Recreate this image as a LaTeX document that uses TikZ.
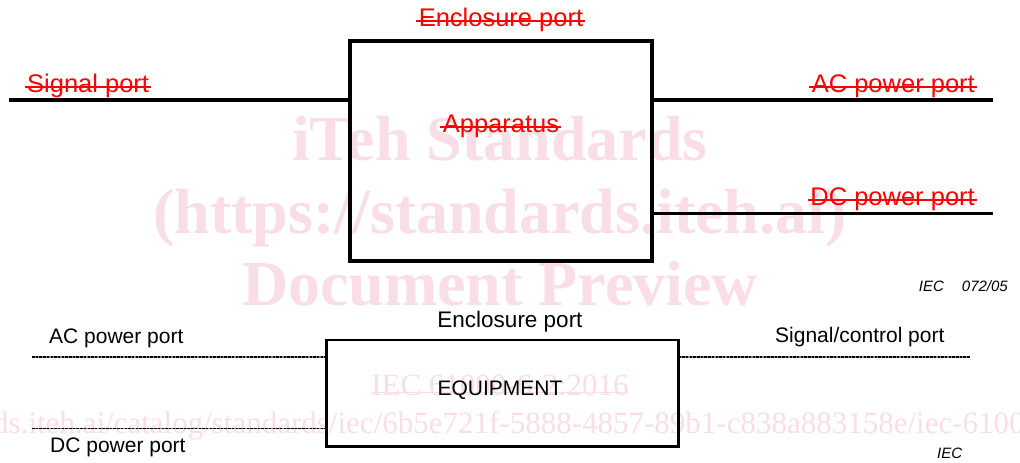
\documentclass[tikz,border=0pt]{standalone}
\usepackage{fontspec}
\setmainfont{Liberation Sans}
\newfontfamily\wmserif{Liberation Serif}
\definecolor{wmpink}{RGB}{249,222,230}
\definecolor{portred}{RGB}{255,0,0}
\tikzset{
  frame/.style={draw, inner sep=0pt, outer sep=0pt},
  heavywire/.style={line width=3.6pt},
  portwire/.style={draw=black, line width=1.7pt, dash pattern=on 2.5pt off 1.2pt,
                   preaction={draw=black!45, line width=1.7pt}},
  redlabel/.style={text=portred, inner sep=0pt, font=\fontsize{25.5}{30}\selectfont},
  strikeline/.style={draw=portred, line width=2pt},
  plainlabel/.style={inner sep=0pt, font=\fontsize{21}{25}\selectfont},
  tag/.style={inner sep=0pt, font=\fontsize{15}{18}\selectfont\itshape},
  wmbig/.style={text=wmpink, inner sep=0pt, font=\fontsize{64}{70}\selectfont\wmserif\bfseries},
  wmsmall/.style={text=wmpink, inner sep=0pt, font=\fontsize{31}{36}\selectfont\wmserif},
}
% red label with a line struck through it
\newcommand\struckname[4]{%
  \node[redlabel, anchor=#3] (#1) at #2 {#4};
  \draw[strikeline] ([xshift=-2.5pt,yshift=5pt]#1.base west) -- ([xshift=2pt,yshift=5pt]#1.base east);}
\begin{document}
\begin{tikzpicture}[x=1pt, y=-1pt]
\useasboundingbox (0,0) rectangle (1020,463);

% background imprint
\begin{scope}
  \clip (0,0) rectangle (1020,463);
  \node[wmbig, anchor=base] (wm1) at (500,160) {iTeh Standards};
  \node[wmbig, anchor=base] (wm2) at (500,233) {(https://standards.iteh.ai)};
  \node[wmbig, anchor=base] (wm3) at (500,305) {Document Preview};
  \node[wmsmall, anchor=base] (wm4) at (500,395) {IEC 61000-6-2:2016};
  \draw[wmpink, line width=1.2pt] ([yshift=2.5pt]wm4.base west) -- ([yshift=2.5pt]wm4.base east);
  \node[wmsmall, anchor=base west] (wm5) at (-7,433)
    {ds.iteh.ai/catalog/standards/iec/6b5e721f-5888-4857-89b1-c838a883158e/iec-6100};
\end{scope}

% upper figure: apparatus and its ports
\node[frame, heavywire, minimum width=302pt, minimum height=220pt] (app) at (501,151.2) {};
\coordinate (sigEnd) at (9,100);
\coordinate (acEnd) at (993,100);
\coordinate (dcEnd) at (993,213.5);
\draw[heavywire] (sigEnd) -- (sigEnd -| app.west);
\draw[heavywire] (acEnd -| app.east) -- (acEnd);
\draw[heavywire] (dcEnd -| app.east) -- (dcEnd);

\struckname{encA}{(501,26)}{base}{Enclosure port}
\struckname{appName}{(501,132)}{base}{Apparatus}
\struckname{sigA}{(27,92)}{base west}{Signal port}
\struckname{acA}{(975,92)}{base east}{AC power port}
\struckname{dcA}{(975,205)}{base east}{DC power port}

\node[tag, anchor=base east] (tagA) at (1008,291) {IEC\hspace{18pt}072/05};

% lower figure: equipment and its ports
\node[frame, line width=2.8pt, minimum width=351.8pt, minimum height=106.5pt] (equip) at (502.6,393.25) {};
\coordinate (acB) at (32,357);
\coordinate (dcB) at (32,428.5);
\coordinate (scB) at (970,357);
\draw[portwire] (acB) -- (acB -| equip.west);
\draw[portwire] (dcB) -- (dcB -| equip.west);
\draw[portwire] (scB -| equip.east) -- (scB);

\node[plainlabel, anchor=base, font=\fontsize{22.5}{26}\selectfont] (encB) at (510,327) {Enclosure port};
\node[plainlabel, anchor=base] (equipName) at (500,395) {EQUIPMENT};
\node[plainlabel, anchor=base west] (acLabel) at (49,343) {AC power port};
\node[plainlabel, anchor=base west] (dcLabel) at (50,452) {DC power port};
\node[plainlabel, anchor=base west] (scLabel) at (775,342) {Signal/control port};

\node[tag, anchor=base west] (tagB) at (937,458) {IEC};
\end{tikzpicture}
\end{document}
